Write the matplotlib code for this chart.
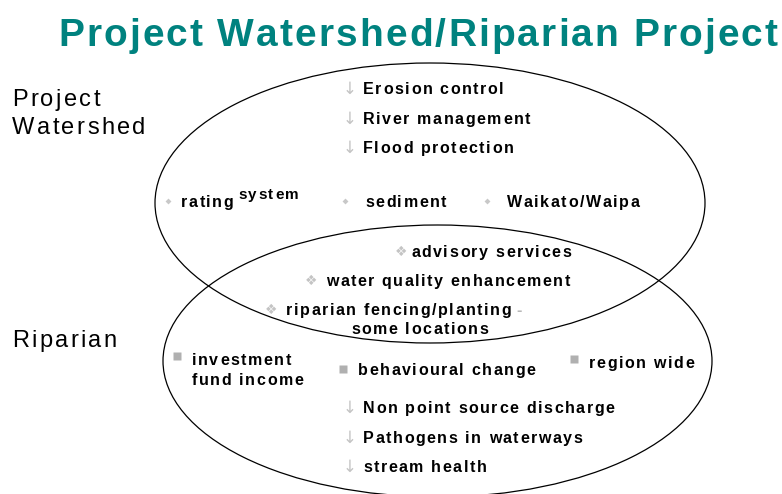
import matplotlib
matplotlib.use("Agg")
import matplotlib.pyplot as plt
from matplotlib.patches import Ellipse
from matplotlib.font_manager import FontProperties, findfont, get_font

# chart content
title = "Project Watershed/Riparian Project"
set_names = ["Project", "Watershed", "Riparian"]
top_items = ["Erosion control", "River management", "Flood protection"]
mid_items = ["rating", "sediment", "Waikato/Waipa"]
overlap_items = ["advisory services", "water quality enhancement",
                 "riparian fencing/planting", "some locations"]
square_items = ["investment", "fund income", "behavioural change", "region wide"]
bottom_items = ["Non point source discharge", "Pathogens in waterways", "stream health"]

W, H = 782, 494
fig = plt.figure(figsize=(W / 100, H / 100), dpi=100)
ax = fig.add_axes([0, 0, 1, 1])
ax.set_xlim(0, W)
ax.set_ylim(H, 0)
ax.axis("off")

TEAL = "#00827f"
GREY = "#b8b8b8"


def spaced(x, y, s, size=11.5, track=1.6, weight="bold", color="black"):
    # matplotlib has no letter spacing, so draw char by char
    prop = FontProperties(family="Liberation Sans", weight=weight, size=size)
    font = get_font(findfont(prop))
    font.set_size(size, 100)
    for c in s:
        ax.text(x, y, c, fontproperties=prop, color=color, va="baseline", ha="left")
        x += font.load_char(ord(c)).linearHoriAdvance / 65536 + track
    return x


def arrow(x, y):
    ax.text(x, y, "\u2193", family=["DejaVu Sans"], fontsize=12,
            color="#c4c4c4", va="baseline", ha="left")


def diamond(x, y):
    ax.text(x, y, "\u2756", family=["DejaVu Sans"], fontsize=10,
            color="#c4c4c4", va="baseline", ha="left")


# the two sets
ax.add_patch(Ellipse((430, 203), 550, 280, fill=False, lw=0.9, ec="black"))
ax.add_patch(Ellipse((437.5, 361), 549, 272, fill=False, lw=0.9, ec="black"))

spaced(58, 46, title, size=28, track=2.1, color=TEAL)

spaced(12, 106, set_names[0], size=17, track=2.4, weight="normal")
spaced(12, 134, set_names[1], size=17, track=2.4, weight="normal")
spaced(12, 347, set_names[2], size=17, track=2.4, weight="normal")

# Project Watershed only
for i, s in enumerate(top_items):
    y = 94 + i * 29.5
    arrow(343, y)
    spaced(363, y, s)

for bx, x, s in zip([168, 345, 487], [181, 365, 507], mid_items):
    ax.plot(bx, 201, marker="D", ms=3, color="#c8c8c8", mec="none")
    spaced(x, 207, s)
spaced(238, 199, "system", size=11)

# overlap
diamond(395, 256)
spaced(411, 257, overlap_items[0])
diamond(305, 285)
spaced(326, 286, overlap_items[1])
diamond(265, 314)
end = spaced(286, 315, overlap_items[2])
spaced(end + 4, 315, "-", color=GREY)
spaced(351, 334, overlap_items[3])

# Riparian only
for x, y in [(177, 356), (343, 369), (574, 359)]:
    ax.plot(x, y, marker="s", ms=6, color="#b0b0b0", mec="none")
spaced(192, 365, square_items[0])
spaced(192, 385, square_items[1])
spaced(358, 375, square_items[2])
spaced(589, 368, square_items[3])

for i, s in enumerate(bottom_items):
    y = 413 + i * 29.5
    arrow(343, y)
    spaced(363, y, s)

fig.savefig("out.png", dpi=100)
